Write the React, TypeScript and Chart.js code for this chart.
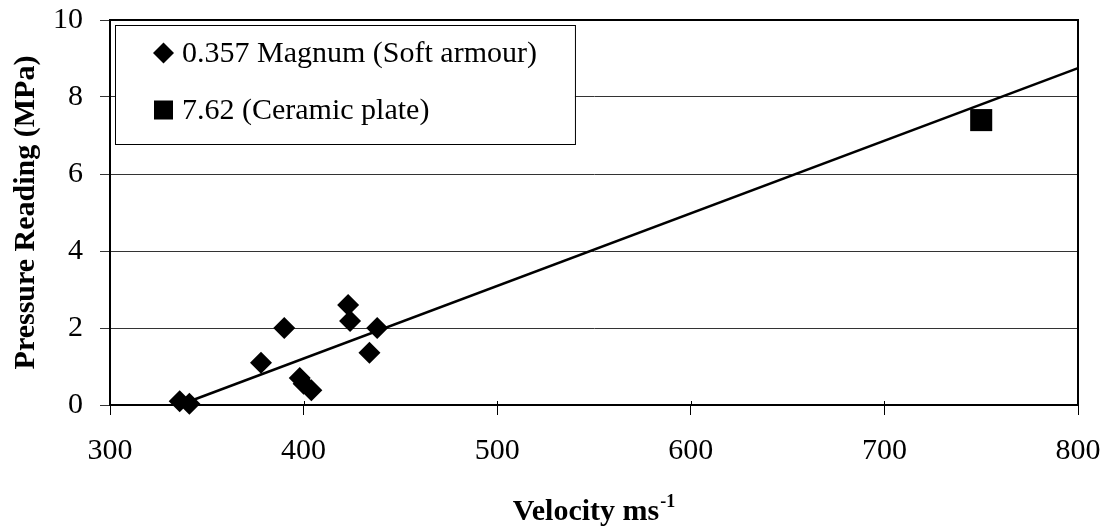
import React, { useEffect, useRef } from "react";
import { Chart, registerables } from "chart.js";

Chart.register(...registerables);

// ---- data ----
const softVelocity = [336, 341, 378, 390, 398, 400, 404, 423, 424, 434, 438];
const softPressure = [0.1, 0.03, 1.1, 2.0, 0.7, 0.55, 0.38, 2.6, 2.18, 1.36, 2.0];
const ceramicVelocity = [750];
const ceramicPressure = [7.4];
const trendVelocity = [336, 800];
const trendPressure = [0, 8.75];
const legendLabels = ["0.357 Magnum (Soft armour)", "7.62 (Ceramic plate)"];
const xTitleMain = "Velocity ms";
const xTitleSup = "-1";
const yTitle = "Pressure Reading (MPa)";

const FONT = "'Liberation Serif', 'Times New Roman', serif";

const decorPlugin = {
  id: "decor",
  afterDatasetsDraw(chart: any) {
    const { ctx, chartArea: a } = chart;
    ctx.save();
    // plot frame
    ctx.strokeStyle = "#000";
    ctx.lineWidth = 2;
    ctx.strokeRect(a.left, a.top, a.right - a.left, a.bottom - a.top);

    // x tick marks crossing slightly into the plot
    const xs = chart.scales.x;
    ctx.lineWidth = 1;
    xs.ticks.forEach((t: any) => {
      const px = Math.round(xs.getPixelForValue(t.value)) + 0.5;
      ctx.beginPath();
      ctx.moveTo(px, a.bottom - 4);
      ctx.lineTo(px, a.bottom);
      ctx.stroke();
    });

    // legend box
    ctx.font = `30px ${FONT}`;
    const tw = Math.max(...legendLabels.map((t) => ctx.measureText(t).width));
    const bx = a.left + 5;
    const by = a.top + 5;
    const textX = bx + 67;
    const bw = textX - bx + tw + 38;
    const bh = 119;
    ctx.fillStyle = "#fff";
    ctx.fillRect(bx, by, bw, bh);
    ctx.lineWidth = 1;
    ctx.strokeStyle = "#000";
    ctx.strokeRect(bx + 0.5, by + 0.5, bw, bh);
    const rows = [by + 28, by + 85];
    const mx = bx + 48.5;
    ctx.fillStyle = "#000";
    // diamond
    ctx.beginPath();
    ctx.moveTo(mx, rows[0] - 10.5);
    ctx.lineTo(mx + 10.5, rows[0]);
    ctx.lineTo(mx, rows[0] + 10.5);
    ctx.lineTo(mx - 10.5, rows[0]);
    ctx.closePath();
    ctx.fill();
    // square
    ctx.fillRect(mx - 9.5, rows[1] - 9.5, 19, 19);
    ctx.textAlign = "left";
    ctx.textBaseline = "middle";
    legendLabels.forEach((t, i) => ctx.fillText(t, textX, rows[i] + 1));
    ctx.restore();
  },
  afterDraw(chart: any) {
    const { ctx, chartArea: a } = chart;
    ctx.save();
    ctx.fillStyle = "#000";
    ctx.textBaseline = "alphabetic";
    ctx.textAlign = "left";
    ctx.font = `bold 30px ${FONT}`;
    const w1 = ctx.measureText(xTitleMain).width;
    ctx.font = `bold 18px ${FONT}`;
    const w2 = ctx.measureText(xTitleSup).width;
    const total = w1 + 1 + w2;
    const cx = (a.left + a.right) / 2;
    const sx = cx - total / 2;
    ctx.font = `bold 30px ${FONT}`;
    ctx.fillText(xTitleMain, sx, 520);
    ctx.font = `bold 18px ${FONT}`;
    ctx.fillText(xTitleSup, sx + w1 + 1, 507);
    ctx.restore();
  },
};

export default function App() {
  const ref = useRef<HTMLCanvasElement | null>(null);
  useEffect(() => {
    if (!ref.current) return;
    const chart = new Chart(ref.current, {
      type: "scatter",
      data: {
        datasets: [
          {
            type: "line",
            label: "trend",
            data: trendVelocity.map((x, i) => ({ x, y: trendPressure[i] })),
            borderColor: "#000",
            borderWidth: 2.5,
            pointRadius: 0,
            fill: false,
            clip: false,
          } as any,
          {
            label: legendLabels[0],
            data: softVelocity.map((x, i) => ({ x, y: softPressure[i] })),
            pointStyle: "rectRot",
            pointRadius: 11,
            pointHoverRadius: 11,
            backgroundColor: "#000",
            borderColor: "#000",
            borderWidth: 0,
            clip: false,
          } as any,
          {
            label: legendLabels[1],
            data: ceramicVelocity.map((x, i) => ({ x, y: ceramicPressure[i] })),
            pointStyle: "rect",
            pointRadius: 15.6,
            pointHoverRadius: 15.6,
            backgroundColor: "#000",
            borderColor: "#000",
            borderWidth: 0,
            clip: false,
          } as any,
        ],
      },
      options: {
        responsive: false,
        animation: false,
        devicePixelRatio: 1,
        layout: { padding: { top: 20, right: 28, bottom: 0, left: 0 } },
        plugins: { legend: { display: false }, tooltip: { enabled: false } },
        scales: {
          x: {
            type: "linear",
            min: 300,
            max: 800,
            ticks: {
              stepSize: 100,
              color: "#000",
              font: { family: FONT, size: 30 },
              padding: 18,
              maxRotation: 0,
            },
            grid: { drawOnChartArea: false, drawTicks: true, tickLength: 10, color: "#000", lineWidth: 1 },
            border: { display: true, color: "#000", width: 2 },
            afterFit: (s: any) => {
              s.height = 122;
              s.paddingLeft = 0;
              s.paddingRight = 0;
            },
          },
          y: {
            type: "linear",
            min: 0,
            max: 10,
            ticks: {
              stepSize: 2,
              color: "#000",
              font: { family: FONT, size: 30 },
              padding: 17,
            },
            grid: { color: "#333", lineWidth: 1, drawTicks: true, tickLength: 10 },
            border: { display: true, color: "#000", width: 2 },
            title: {
              display: true,
              text: yTitle,
              color: "#000",
              font: { family: FONT, size: 30, weight: "bold" },
              padding: { top: 8, bottom: 0 },
            },
            afterFit: (s: any) => {
              s.width = 110;
              s.paddingTop = 0;
              s.paddingBottom = 0;
            },
          },
        },
      } as any,
      plugins: [decorPlugin],
    });
    return () => chart.destroy();
  }, []);
  return (
    <div style={{ position: "absolute", left: 0, top: 0, width: 1106, height: 527, background: "#fff" }}>
      <canvas ref={ref} width={1106} height={527} />
    </div>
  );
}
